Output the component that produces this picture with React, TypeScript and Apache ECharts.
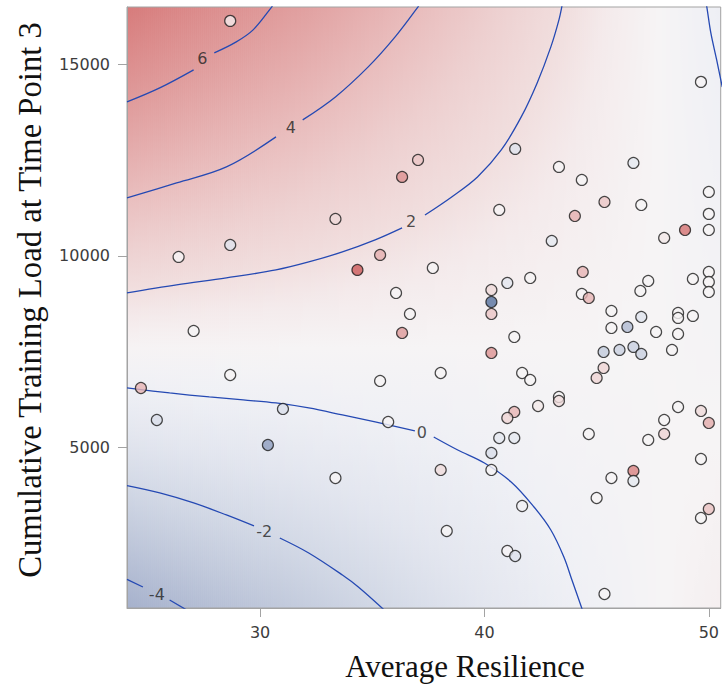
import React, { useEffect, useRef } from "react";
import * as echarts from "echarts";

// ---------- axis ranges ----------
const X_MIN = 24.07;
const X_MAX = 50.53;
const Y_MIN = 821;
const Y_MAX = 16486;
const X_TICKS = [30, 40, 50];
const Y_TICKS = [5000, 10000, 15000];

// ---------- response surface ----------
const GRID_X = [24, 28, 32, 36, 40, 44, 48, 51];
const GRID_Y = [0, 4000, 8000, 12000, 16000, 18000];
const GRID_Z_24 = [-5.24, -2.04, 1.16, 4.36, 7.56, 9.16];
const GRID_Z_28 = [-4.23, -1.56, 1.11, 3.78, 6.45, 7.78];
const GRID_Z_32 = [-3.28, -1.12, 1.04, 3.2, 5.36, 6.44];
const GRID_Z_36 = [-2.25, -0.65, 0.95, 2.55, 4.15, 4.95];
const GRID_Z_40 = [-1.23, -0.17, 0.89, 1.95, 3.01, 3.54];
const GRID_Z_44 = [-0.19, 0.33, 0.85, 1.37, 1.89, 2.15];
const GRID_Z_48 = [0.78, 0.76, 0.75, 0.74, 0.72, 0.72];
const GRID_Z_51 = [1.35, 0.95, 0.55, 0.15, -0.25, -0.45];
const GRID_Z = [GRID_Z_24, GRID_Z_28, GRID_Z_32, GRID_Z_36, GRID_Z_40, GRID_Z_44, GRID_Z_48, GRID_Z_51];

// ---------- colour scale ----------
const Z_STOPS = [-8, -6, -5, -4, -3, -2, -1, 0, 0.8, 1.5, 2, 3, 4, 5, 6, 7, 8, 10, 12];
const Z_COLORS = [
  "#56729f", "#7d8fb6", "#9eaac7", "#b0bad2", "#c2cadc", "#d3d9e6", "#e3e6ef", "#eff0f5",
  "#f6f4f5", "#f4eaeb", "#f1dfdf", "#edcfcf", "#e9bdbd", "#e4abab", "#df9a9a", "#db8a8a",
  "#d67a7a", "#cc5a5a", "#c04444",
];

// ---------- contour lines (segments split around their labels) ----------
const C6_A = [[24.07, 14012], [25.53, 14377], [27.04, 14847]];
const C6_B = [[27.96, 15290], [28.94, 15577], [29.69, 15890], [30.49, 16464], [30.6, 16560]];
const C4_A = [[24.07, 11510], [26.28, 11901], [28.5, 12318], [30.71, 13100]];
const C4_B = [[31.9, 13543], [33.36, 14143], [34.82, 14925], [36.02, 15707], [37.04, 16490], [37.1, 16560]];
const C2_A = [[24.07, 9033], [26.28, 9241], [28.5, 9424], [30.71, 9633], [32.17, 9841], [33.67, 10102], [35.13, 10415], [36.33, 10728]];
const C2_B = [[37.35, 11065], [38.54, 11536], [39.69, 12057], [40.75, 12761], [41.64, 13621], [42.35, 14508], [42.96, 15446], [43.32, 16150], [43.47, 16560]];
const C0_A = [[24.07, 6557], [25.97, 6426], [27.74, 6322], [29.25, 6244], [30.71, 6165], [32.17, 6035], [33.67, 5853], [35.13, 5670], [36.9, 5435]];
const C0_B = [[37.74, 5279], [38.81, 4940], [40.0, 4601], [41.19, 4106], [42.21, 3454], [42.96, 2855], [43.54, 2151], [43.9, 1551], [44.36, 780]];
const C0_C = [[49.88, 16560], [49.91, 16490], [50.09, 15811], [50.35, 15107], [50.6, 14400]];
const CM2_A = [[24.07, 4010], [25.53, 3820], [27.04, 3559], [28.5, 3246], [29.73, 2959]];
const CM2_B = [[30.88, 2646], [32.17, 2255], [33.67, 1681], [34.38, 1369], [35.55, 760]];
const CM4_A = [[24.07, 1565], [24.78, 1369]];
const CM4_B = [[25.97, 1030], [26.7, 780]];
const CONTOUR_SEGMENTS = [C6_A, C6_B, C4_A, C4_B, C2_A, C2_B, C0_A, C0_B, C0_C, CM2_A, CM2_B, CM4_A, CM4_B];

const CONTOUR_LABELS = ["6", "4", "2", "0", "-2", "-4"];
const CONTOUR_LABEL_X = [27.43, 31.37, 36.73, 37.21, 30.18, 25.4];
const CONTOUR_LABEL_Y = [15133, 13334, 10884, 5383, 2803, 1160];

// ---------- observed points ----------
const RESILIENCE = [
  28.67, 28.67, 26.37, 37.04, 36.33, 33.36, 35.35, 34.34, 36.06, 41.37,
  43.32, 40.66, 43.0, 37.7, 41.02, 42.04, 40.31, 40.31, 49.65, 46.64,
  44.34, 45.35, 44.03, 46.99, 50.0, 50.0, 50.0, 48.94, 48.01, 44.38,
  44.34, 44.65, 46.95, 47.3, 49.29, 50.0, 50.0, 50.0, 45.66, 46.99,
  48.63, 48.63, 49.29, 45.66, 46.37, 47.65, 48.63, 45.31, 46.02, 46.64,
  46.99, 48.36, 45.31, 45.0, 48.63, 49.65, 50.0, 48.01, 48.01, 47.3,
  44.65, 49.65, 46.64, 46.64, 45.66, 45.0, 50.0, 49.65, 45.35, 40.31,
  41.33, 40.31, 38.05, 41.68, 42.04, 43.32, 43.32, 42.39, 41.33, 41.02,
  40.66, 41.33, 40.31, 40.31, 38.05, 41.68, 38.32, 41.02, 41.37, 36.68,
  36.33, 35.35, 31.02, 35.71, 33.36, 27.04, 28.67, 24.69, 25.4, 30.35,
];
const TRAINING_LOAD = [
  16124, 10284, 9972, 12500, 12057, 10962, 10024, 9633, 9033, 12787,
  12318, 11197, 10389, 9685, 9294, 9424, 9111, 8798, 14534, 12422,
  11979, 11405, 11040, 11327, 11666, 11093, 10675, 10675, 10467, 9580,
  9007, 8903, 9085, 9346, 9398, 9580, 9320, 9059, 8564, 8407,
  8512, 8382, 8434, 8121, 8147, 8016, 7964, 7495, 7548, 7626,
  7443, 7548, 7078, 6817, 6061, 5957, 5644, 5722, 5357, 5201,
  5357, 4705, 4393, 4132, 4210, 3689, 3402, 3167, 1186, 8486,
  7886, 7469, 6947, 6947, 6765, 6322, 6217, 6087, 5931, 5774,
  5253, 5253, 4862, 4419, 4419, 3480, 2828, 2307, 2177, 8486,
  7990, 6739, 6009, 5670, 4210, 8042, 6895, 6556, 5722, 5070,
];
const OUTCOME = [
  1.4, -1.2, 0.8, 3.5, 6.5, 2.4, 4.8, 10, 0.8, -1.2,
  0.8, 0.8, -0.8, 0.8, -1.0, 0.8, 2.4, -8, 0.8, -0.8,
  0.8, 3.5, 4.8, 0.8, 0.8, 0.8, 0.8, 8.5, 1.6, 4.5,
  0.8, 4.5, 0.8, 0.8, 0.8, 0.8, 0.8, 0.8, 0.8, -1.2,
  0.8, 0.8, 0.8, 0.8, -4, 0.8, 0.8, -3.0, -2.6, -2.6,
  -2.6, 0.8, 2.6, 2.6, 0.8, 2.4, 5, 0.8, 2.6, 0.8,
  0.8, 0.8, 7.5, -0.8, 0.8, 0.8, 3.8, 0.8, 0.8, 3.5,
  0.8, 6.5, 0.8, 0.8, 0.8, 0.8, 2.2, 1.6, 4.5, 2.6,
  -0.8, -0.8, -1.6, 0.8, 2.2, 0.2, 0.8, 0.8, -1.2, 0.8,
  6.0, 0.8, -1.6, 0.8, 0.8, 0.8, 0.8, 4.5, -1.6, -5.5,
];

// ---------- helpers ----------
function hexToRgb(h: string): number[] {
  return [parseInt(h.slice(1, 3), 16), parseInt(h.slice(3, 5), 16), parseInt(h.slice(5, 7), 16)];
}
const Z_RGB = Z_COLORS.map(hexToRgb);

function colorOf(z: number): string {
  if (z <= Z_STOPS[0]) return Z_COLORS[0];
  const n = Z_STOPS.length;
  if (z >= Z_STOPS[n - 1]) return Z_COLORS[n - 1];
  let i = 0;
  while (i < n - 2 && z > Z_STOPS[i + 1]) i++;
  const t = (z - Z_STOPS[i]) / (Z_STOPS[i + 1] - Z_STOPS[i]);
  const a = Z_RGB[i];
  const b = Z_RGB[i + 1];
  const c = a.map((v, k) => Math.round(v + (b[k] - v) * t));
  return `rgb(${c[0]},${c[1]},${c[2]})`;
}

function findCell(arr: number[], v: number): number {
  let i = 0;
  while (i < arr.length - 2 && v > arr[i + 1]) i++;
  return i;
}

function zAt(x: number, y: number): number {
  const i = findCell(GRID_X, x);
  const j = findCell(GRID_Y, y);
  const tx = (x - GRID_X[i]) / (GRID_X[i + 1] - GRID_X[i]);
  const ty = (y - GRID_Y[j]) / (GRID_Y[j + 1] - GRID_Y[j]);
  const z00 = GRID_Z[i][j];
  const z10 = GRID_Z[i + 1][j];
  const z01 = GRID_Z[i][j + 1];
  const z11 = GRID_Z[i + 1][j + 1];
  return z00 * (1 - tx) * (1 - ty) + z10 * tx * (1 - ty) + z01 * (1 - tx) * ty + z11 * tx * ty;
}

export default function App() {
  const ref = useRef<HTMLDivElement>(null);

  useEffect(() => {
    document.body.style.margin = "0";
    if (!ref.current) return;
    const chart = echarts.init(ref.current, null, { renderer: "svg" });

    const axisGrey = "#a3a3a3";
    const labelFont = "DejaVu Sans";

    const backgroundSeries = {
      type: "custom",
      silent: true,
      z: -5,
      clip: true,
      data: GRID_X.slice(0, -1).map((x) => [x, Y_MIN]),
      renderItem: (params: any, api: any) => {
        const i = params.dataIndex;
        const xa = Math.max(GRID_X[i], X_MIN);
        const xb = Math.min(GRID_X[i + 1], X_MAX);
        if (xb <= xa) return null;
        const pTL = api.coord([xa, Y_MAX]);
        const pBR = api.coord([xb, Y_MIN]);
        const width = pBR[0] - pTL[0];
        const n = Math.max(1, Math.round(width / 2));
        const w = width / n;
        const M = 30;
        const children: any[] = [];
        for (let k = 0; k < n; k++) {
          const xs = xa + ((k + 0.5) / n) * (xb - xa);
          const stops: any[] = [];
          for (let t = 0; t <= M; t++) {
            const y = Y_MAX - (t / M) * (Y_MAX - Y_MIN);
            stops.push({ offset: t / M, color: colorOf(zAt(xs, y)) });
          }
          children.push({
            type: "rect",
            shape: { x: pTL[0] + k * w, y: pTL[1], width: w + 0.7, height: pBR[1] - pTL[1] },
            style: { fill: new echarts.graphic.LinearGradient(0, 0, 0, 1, stops) },
          });
        }
        return { type: "group", children };
      },
    };

    const contourSeries = CONTOUR_SEGMENTS.map((seg) => ({
      type: "line",
      data: seg,
      smooth: 0.35,
      symbol: "none",
      silent: true,
      z: 3,
      clip: true,
      lineStyle: { color: "#2549b3", width: 1.3 },
    }));

    const contourLabelSeries = {
      type: "scatter",
      silent: true,
      z: 4,
      symbolSize: 2,
      itemStyle: { color: "rgba(0,0,0,0)" },
      data: CONTOUR_LABELS.map((t, i) => [CONTOUR_LABEL_X[i], CONTOUR_LABEL_Y[i], t]),
      label: {
        show: true,
        position: "inside",
        formatter: (p: any) => p.data[2],
        fontFamily: labelFont,
        fontSize: 16,
        color: "#222222",
      },
    };

    const pointSeries = {
      type: "scatter",
      z: 5,
      symbol: "circle",
      symbolSize: 11,
      data: RESILIENCE.map((x, i) => [x, TRAINING_LOAD[i], OUTCOME[i]]),
      itemStyle: {
        color: (p: any) => colorOf(p.data[2]),
        borderColor: "#1c1c1c",
        borderWidth: 1.2,
      },
    };

    chart.setOption({
      animation: false,
      grid: {
        left: 127,
        top: 7,
        width: 598,
        height: 601,
        show: true,
        borderColor: axisGrey,
        borderWidth: 1,
        backgroundColor: "transparent",
      },
      xAxis: {
        type: "value",
        min: X_MIN,
        max: X_MAX,
        splitLine: { show: false },
        axisLine: { show: true, lineStyle: { color: axisGrey, width: 1 } },
        axisTick: { show: true, length: 9, customValues: X_TICKS, lineStyle: { color: axisGrey } },
        axisLabel: {
          customValues: X_TICKS,
          formatter: (v: number) => String(v),
          color: "#3c3c3c",
          fontFamily: labelFont,
          fontSize: 16,
          margin: 16,
        },
      },
      yAxis: {
        type: "value",
        min: Y_MIN,
        max: Y_MAX,
        splitLine: { show: false },
        axisLine: { show: true, lineStyle: { color: axisGrey, width: 1 } },
        axisTick: { show: true, length: 9, customValues: Y_TICKS, lineStyle: { color: axisGrey } },
        axisLabel: {
          customValues: Y_TICKS,
          formatter: (v: number) => String(v),
          color: "#3c3c3c",
          fontFamily: labelFont,
          fontSize: 16,
          margin: 17,
        },
      },
      graphic: [
        {
          type: "text",
          x: 465,
          y: 666,
          silent: true,
          style: {
            text: "Average Resilience",
            font: '31px "Liberation Serif"',
            fill: "#111",
            textAlign: "center",
            textVerticalAlign: "middle",
            align: "center",
            verticalAlign: "middle",
          },
        },
        {
          type: "text",
          x: 30,
          y: 300,
          rotation: Math.PI / 2,
          silent: true,
          style: {
            text: "Cumulative Training Load at Time Point 3",
            font: '32.7px "Liberation Serif"',
            fill: "#111",
            textAlign: "center",
            textVerticalAlign: "middle",
            align: "center",
            verticalAlign: "middle",
          },
        },
      ],
      series: [backgroundSeries, ...contourSeries, contourLabelSeries, pointSeries],
    });

    return () => chart.dispose();
  }, []);

  return <div ref={ref} style={{ width: 722, height: 688 }} />;
}
